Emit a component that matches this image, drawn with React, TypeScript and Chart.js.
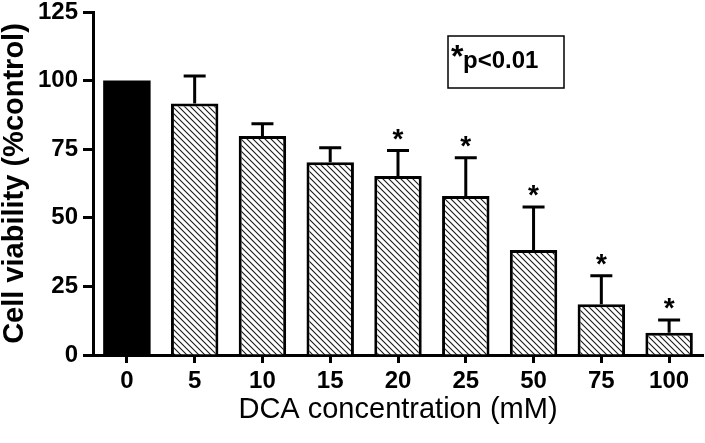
import React, { useEffect, useRef } from 'react';
import { Chart, registerables } from 'chart.js';

Chart.register(...registerables);

const categories = ['0', '5', '10', '15', '20', '25', '50', '75', '100'];
const viability = [100, 91.7, 79.8, 70.2, 65.2, 57.9, 38.3, 18.5, 8.1];
const sem = [0, 10.0, 4.5, 5.3, 9.3, 14.0, 15.6, 10.4, 4.7];
const significant = [false, false, false, false, true, true, true, true, true];
const yMin = 0;
const yMax = 125;
const yStep = 25;
const yTitle = 'Cell viability (%control)';
const xTitle = 'DCA concentration (mM)';
const legendStar = '*';
const legendText = 'p<0.01';

const FONT = '"Liberation Sans", Arial, Helvetica, sans-serif';

function makeHatch(): CanvasPattern | string {
  const s = 6;
  const c = document.createElement('canvas');
  c.width = s;
  c.height = s;
  const g = c.getContext('2d');
  if (!g) return '#fff';
  g.fillStyle = '#fff';
  g.fillRect(0, 0, s, s);
  g.strokeStyle = '#1a1a1a';
  g.lineWidth = 1.1;
  g.beginPath();
  g.moveTo(0, 0);
  g.lineTo(s, s);
  g.moveTo(s - 1, -1);
  g.lineTo(s + 1, 1);
  g.moveTo(-1, s - 1);
  g.lineTo(1, s + 1);
  g.stroke();
  return g.createPattern(c, 'repeat') || '#fff';
}

const errorBarPlugin = {
  id: 'errorBarsAndLegend',
  afterDatasetsDraw(chart: any) {
    const ctx: CanvasRenderingContext2D = chart.ctx;
    const meta = chart.getDatasetMeta(0);
    const yScale = chart.scales.y;
    ctx.save();
    ctx.strokeStyle = '#000';
    ctx.fillStyle = '#000';
    ctx.lineWidth = 3;
    meta.data.forEach((bar: any, i: number) => {
      const e = sem[i];
      const top = yScale.getPixelForValue(viability[i] + e);
      if (e > 0) {
        ctx.beginPath();
        ctx.moveTo(bar.x, bar.y);
        ctx.lineTo(bar.x, top);
        ctx.moveTo(bar.x - 11, top);
        ctx.lineTo(bar.x + 11, top);
        ctx.stroke();
      }
      if (significant[i]) {
        ctx.font = `bold 28px ${FONT}`;
        ctx.textAlign = 'center';
        ctx.textBaseline = 'alphabetic';
        ctx.fillText('*', bar.x, top - 3);
      }
    });
    // significance key box
    const area = chart.chartArea;
    const bx = area.left + 355;
    const by = area.top + 24;
    ctx.lineWidth = 1.5;
    ctx.strokeRect(bx, by, 116, 52);
    ctx.textAlign = 'left';
    ctx.textBaseline = 'alphabetic';
    ctx.font = `bold 32px ${FONT}`;
    ctx.fillText(legendStar, bx + 3, by + 31);
    ctx.font = `bold 24px ${FONT}`;
    ctx.fillText(legendText, bx + 15, by + 32);
    ctx.restore();
  },
};

export default function App() {
  const ref = useRef<HTMLCanvasElement | null>(null);

  useEffect(() => {
    document.body.style.margin = '0';
    const canvas = ref.current;
    if (!canvas) return;
    const hatch = makeHatch();
    const fills = categories.map((_, i) => (i === 0 ? '#000' : hatch));
    const borders = categories.map((_, i) => (i === 0 ? 0 : 3));
    const chart = new Chart(canvas, {
      type: 'bar',
      data: {
        labels: categories,
        datasets: [
          {
            data: viability,
            backgroundColor: fills as any,
            borderColor: '#000',
            borderWidth: borders,
            barPercentage: 0.7,
            categoryPercentage: 1,
          },
        ],
      },
      options: {
        responsive: false,
        animation: false,
        devicePixelRatio: 1,
        layout: { padding: { top: 12, right: 2, left: 0, bottom: 0 } },
        plugins: {
          legend: { display: false },
          tooltip: { enabled: false },
        },
        scales: {
          x: {
            offset: true,
            grid: {
              offset: false,
              drawOnChartArea: false,
              drawTicks: true,
              tickLength: 8,
              tickWidth: 3,
              tickColor: '#000',
            },
            border: { display: true, color: '#000', width: 3 },
            ticks: {
              color: '#000',
              padding: 6,
              font: { family: FONT, size: 24, weight: 'bold', lineHeight: 1 },
              maxRotation: 0,
            },
            title: {
              display: true,
              text: xTitle,
              color: '#000',
              font: { family: FONT, size: 29, weight: 'normal', lineHeight: 1 },
              padding: { top: 0, bottom: 19 },
            },
            afterFit(scale: any) {
              scale.height = 88;
              scale.paddingLeft = 0;
              scale.paddingRight = 0;
            },
          },
          y: {
            min: yMin,
            max: yMax,
            ticks: {
              stepSize: yStep,
              color: '#000',
              padding: 5,
              font: { family: FONT, size: 24, weight: 'bold', lineHeight: 1 },
            },
            grid: {
              drawOnChartArea: false,
              drawTicks: true,
              tickLength: 10,
              tickWidth: 3,
              tickColor: '#000',
            },
            border: { display: true, color: '#000', width: 3 },
            title: {
              display: true,
              text: yTitle,
              color: '#000',
              font: { family: FONT, size: 29, weight: 'bold', lineHeight: 1 },
              padding: { top: 0, bottom: 0 },
            },
            afterFit(scale: any) {
              scale.width = 93;
              scale.paddingTop = 0;
              scale.paddingBottom = 0;
            },
          },
        },
      },
      plugins: [errorBarPlugin],
    });
    return () => chart.destroy();
  }, []);

  return (
    <div style={{ position: 'absolute', left: 0, top: 0, width: 705, height: 443, background: '#fff' }}>
      <canvas ref={ref} width={705} height={443} style={{ display: 'block' }} />
    </div>
  );
}
